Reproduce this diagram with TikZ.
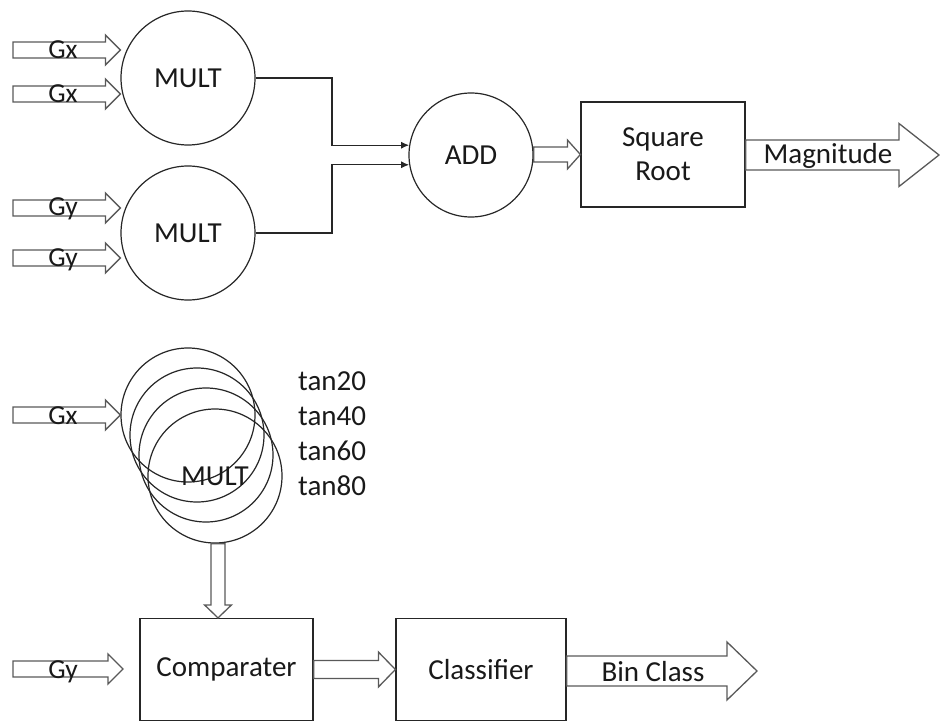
\documentclass[tikz,border=0pt]{standalone}
\usepackage{fontspec}
\setmainfont{Carlito}
\usetikzlibrary{calc,arrows.meta}
\newcommand\harrow[5]{\draw[barrow] let \p1=#1, \p2=#2 in
  (\x1,\y2+#3) -- (\x2-#5,\y2+#3) -- (\x2-#5,\y2+#4) -- (\x2,\y2) --
  (\x2-#5,\y2-#4) -- (\x2-#5,\y2-#3) -- (\x1,\y2-#3) -- cycle;}
\newcommand\varrow[5]{\draw[barrow] let \p1=#1, \p2=#2 in
  (\x1-#3,\y1) -- (\x1-#3,\y2+#5) -- (\x1-#4,\y2+#5) -- (\x1,\y2) --
  (\x1+#4,\y2+#5) -- (\x1+#3,\y2+#5) -- (\x1+#3,\y1) -- cycle;}
\begin{document}
\begin{tikzpicture}[x=1pt,y=-1pt,
  every node/.style={font=\fontsize{29}{34}\selectfont, inner sep=0pt, text=black!90},
  lbl/.style={font=\fontsize{27.5}{30}\selectfont},
  circ/.style={draw=black!85, line width=1.2pt, circle, minimum size=134pt},
  box/.style={draw=black!85, line width=1.2pt, rectangle},
  barrow/.style={draw=black!65, line width=1.3pt, line join=miter},
  conn/.style={draw=black!85, line width=1.2pt, -{Latex[length=8pt,width=7pt]}}]
\useasboundingbox (0,0) rectangle (940,722);

% top part
\node[circ] (m1) at (188,78) {MULT};
\node[circ] (m2) at (188,233) {MULT};
\node[circ, minimum size=124pt] (add) at (471,155) {ADD};
\node[box, minimum width=164pt, minimum height=105pt, align=center] (sq) at (663,154.5) {Square\\Root};

\coordinate (gx1) at (13,50);
\coordinate (gx2) at (13,94);
\coordinate (gy1) at (13,208);
\coordinate (gy2) at (13,258);
\coordinate (mag) at (939,155);
\coordinate (bx) at (332,0);

\harrow{(gx1)}{(m1.west |- gx1)}{8}{15}{15}
\harrow{(gx2)}{(m1.west |- gx2)}{8}{15}{15}
\harrow{(gy1)}{(m2.west |- gy1)}{8}{15}{15}
\harrow{(gy2)}{(m2.west |- gy2)}{8}{15}{15}
\node[lbl, anchor=base] (tgx1) at (63,59) {Gx};
\node[lbl, anchor=base] (tgx2) at (63,103) {Gx};
\node[lbl, anchor=base] (tgy1) at (63,216) {Gy};
\node[lbl, anchor=base] (tgy2) at (63,266) {Gy};

\draw[conn] (m1.east) -- (m1.east -| bx) |- (add.171);
\draw[conn] (m2.east) -- (m2.east -| bx) |- (add.189);

\harrow{(add.east)}{(sq.west)}{7.5}{14.5}{13}
\harrow{(sq.east)}{(mag)}{15}{31.5}{40}
\node[anchor=base] (tmag) at (828,164) {Magnitude};

% bottom part
\node[circ] (mc1) at (188,415) {};
\node[circ] (mc2) at (197,435) {};
\node[circ] (mc3) at (206,455) {};
\node[circ] (mc4) at (215,476) {MULT};

\node[anchor=base west] (t20) at (298,390) {tan20};
\node[anchor=base west] (t40) at (298,425) {tan40};
\node[anchor=base west] (t60) at (298,460) {tan60};
\node[anchor=base west] (t80) at (298,495) {tan80};

\node[box, minimum width=173pt, minimum height=102pt] (comp) at (226.5,669.5) {Comparater};
\node[box, minimum width=170pt, minimum height=102pt] (cls) at (481,669.5) {Classifier};

\coordinate (gx3) at (13,415);
\coordinate (gy3) at (13,669);
\coordinate (gy3t) at (123,669);
\coordinate (bin) at (757,671);

\harrow{(gx3)}{(mc1.west |- gx3)}{8}{15}{15}
\node[lbl, anchor=base] (tgx3) at (63,424) {Gx};
\harrow{(gy3)}{(gy3t)}{8}{15}{15}
\node[lbl, anchor=base] (tgy3) at (63,678) {Gy};

\varrow{($(mc4.south)+(3,0)$)}{(comp.north)}{7}{13.5}{13}
\harrow{(comp.east)}{(cls.west)}{9}{17.5}{17}
\harrow{(cls.east)}{(bin)}{15}{29}{30}
\node[anchor=base] (tbin) at (653,681) {Bin Class};
\end{tikzpicture}
\end{document}
